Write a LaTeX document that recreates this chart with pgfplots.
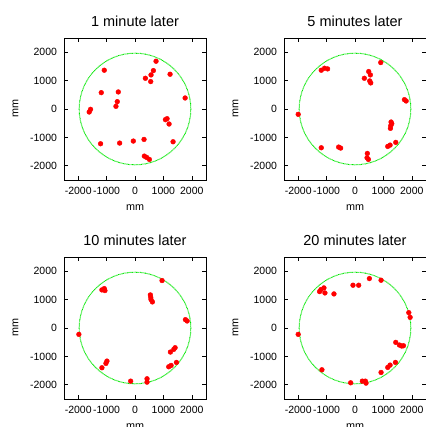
\documentclass[border=0pt]{standalone}
\usepackage{pgfplots}
\pgfplotsset{compat=1.18}
\usepgfplotslibrary{groupplots}
\usetikzlibrary{calc}
\usepackage{fontspec}
\setmainfont{Liberation Sans}

\pgfplotstableread{
x y
741 1682
-1082 1365
647 1353
565 1200
1235 1224
365 1082
553 965
-1188 576
-588 600
-624 259
-671 94
-1565 -12
-1612 -106
1765 388
1071 -376
1129 -341
1200 -529
1341 -1153
-1212 -1224
-541 -1200
-59 -1129
318 -1071
329 -1659
412 -1706
506 -1776
}\tA

\pgfplotstableread{
x y
906 1635
-1188 1365
-1071 1435
-965 1412
482 1318
541 1200
329 1082
518 988
553 918
1741 329
1800 282
-2000 -188
1271 -459
1294 -518
1259 -588
1247 -682
1435 -1176
1153 -1318
1235 -1271
-1188 -1365
-576 -1341
-506 -1376
435 -1565
424 -1718
471 -1776
}\tB

\pgfplotstableread{
x y
953 1671
-1165 1341
-1082 1388
-1059 1318
541 1165
553 1082
565 1000
612 918
1776 294
1835 247
-1976 -224
1412 -694
1365 -753
1247 -847
1459 -1212
1271 -1318
1188 -1365
-988 -1165
-1024 -1247
-1165 -1400
-153 -1871
424 -1788
424 -1906
}\tC

\pgfplotstableread{
x y
506 1741
918 1682
-71 1506
129 1506
-1094 1412
-1200 1353
-1247 1282
-1059 1235
-741 1200
1894 541
1941 376
-2000 -224
1435 -506
1565 -600
1647 -635
1706 -624
1424 -1212
1235 -1306
1153 -1388
918 -1565
-1165 -1471
-153 -1929
259 -1871
365 -1871
388 -1941
}\tD

\definecolor{ptred}{RGB}{255,0,0}
\definecolor{ringgreen}{RGB}{0,230,0}

\begin{document}
\begin{tikzpicture}
\begin{groupplot}[
  group style={group size=2 by 2, horizontal sep=78pt, vertical sep=77pt, group name=g},
  width=142pt, height=142pt, scale only axis,
  xmin=-2500, xmax=2500, ymin=-2500, ymax=2500,
  xtick={-2000,-1000,0,1000,2000}, ytick={-2000,-1000,0,1000,2000},
  xticklabels={-2000,-1000,0,1000,2000}, yticklabels={-2000,-1000,0,1000,2000},
  scaled ticks=false,
  tick align=inside, major tick length=4pt,
  xtick pos=both, ytick pos=both,
  tick label style={font=\fontsize{10.5}{11}\selectfont},
  xticklabel style={yshift=-3.5pt},
  yticklabel style={xshift=-3.5pt},
  xlabel={mm}, ylabel={mm},
  every axis x label/.style={at={(axis description cs:0.5,-0.2113)}, anchor=base,
    font=\fontsize{10.8}{12}\selectfont},
  every axis y label/.style={at={(axis description cs:-0.3415,0.5)}, anchor=center, rotate=90,
    font=\fontsize{10.8}{12}\selectfont},
  every axis title/.style={at={(axis description cs:0.5,1.0775)}, anchor=base,
    font=\fontsize{14.5}{15}\selectfont},
  axis line style={line width=0.9pt},
  every tick/.style={black, line width=0.6pt},
  clip=false,
]
\nextgroupplot[title={1 minute later}]
\draw[ringgreen, line width=1pt, dash pattern=on 0.7pt off 0.6pt] (axis cs:0,0) circle[radius=1965];
\addplot[only marks, mark=*, mark size=2.4pt, color=ptred] table[x=x,y=y] {\tA};
\nextgroupplot[title={5 minutes later}]
\draw[ringgreen, line width=1pt, dash pattern=on 0.7pt off 0.6pt] (axis cs:0,0) circle[radius=1965];
\addplot[only marks, mark=*, mark size=2.4pt, color=ptred] table[x=x,y=y] {\tB};
\nextgroupplot[title={10 minutes later}]
\draw[ringgreen, line width=1pt, dash pattern=on 0.7pt off 0.6pt] (axis cs:0,0) circle[radius=1965];
\addplot[only marks, mark=*, mark size=2.4pt, color=ptred] table[x=x,y=y] {\tC};
\nextgroupplot[title={20 minutes later}]
\draw[ringgreen, line width=1pt, dash pattern=on 0.7pt off 0.6pt] (axis cs:0,0) circle[radius=1965];
\addplot[only marks, mark=*, mark size=2.4pt, color=ptred] table[x=x,y=y] {\tD};
\end{groupplot}
\pgfresetboundingbox
\path ($(g c1r1.north west)+(-64pt,38pt)$) rectangle ++(425pt,-427pt);
\end{tikzpicture}
\end{document}
